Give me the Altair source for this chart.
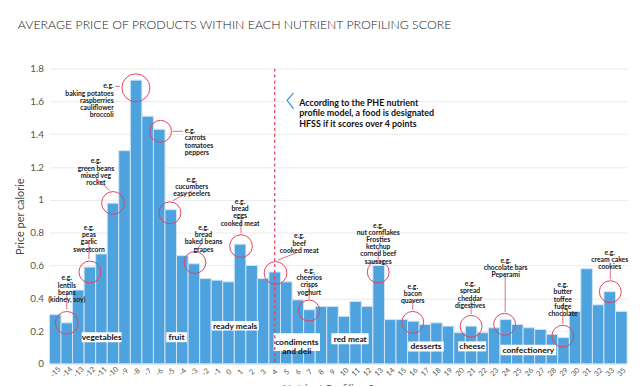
import math
import altair as alt
import pandas as pd

# ---------------- data ----------------
scores = [str(s) for s in range(-15, 34)] + ["35"]
prices = [0.30, 0.25, 0.45, 0.59, 0.67, 0.98, 1.30, 1.73, 1.51, 1.43,
          0.94, 0.66, 0.61, 0.52, 0.51, 0.50, 0.73, 0.60, 0.52, 0.56,
          0.50, 0.39, 0.33, 0.35, 0.35, 0.29, 0.38, 0.35, 0.60, 0.27,
          0.27, 0.26, 0.24, 0.25, 0.23, 0.19, 0.23, 0.19, 0.22, 0.27,
          0.24, 0.22, 0.21, 0.18, 0.16, 0.32, 0.58, 0.36, 0.44, 0.32]

title_text = "AVERAGE PRICE OF PRODUCTS WITHIN EACH NUTRIENT PROFILING SCORE"
y_title = "Price per calorie"
x_title = "Nutrient Profiling Score"
threshold_score = "4"

# example annotations (positions in bar-index units / price units)
ann_text = [
    "e.g.\nlentils\nbeans\n(kidney, soy)",
    "e.g.\npeas\ngarlic\nsweetcorn",
    "e.g.\ngreen beans\nmixed veg\nrocket",
    "e.g.\nbaking potatoes\nraspberries\ncauliflower\nbroccoli",
    "e.g.\ncarrots\ntomatoes\npeppers",
    "e.g.\ncucumbers\neasy peelers",
    "e.g.\nbread\nbaked beans\ngrapes",
    "e.g.\nbread\neggs\ncooked meat",
    "e.g.\nbeef\ncooked meat",
    "e.g.\ncheerios\ncrisps\nyoghurt",
    "e.g.\nnut cornflakes\nFrosties\nketchup\ncorned beef\nsausages",
    "e.g.\nbacon\nquavers",
    "e.g.\nspread\ncheddar\ndigestives",
    "e.g.\nchocolate bars\nPeperami",
    "e.g.\nbutter\ntoffee\nfudge\nchocolate",
    "e.g.\ncream cakes\ncookies",
]
ann_text_u = [1.5, 3.42, 4.02, 5.56, 11.71, 12.31, 13.33, 16.5, 21.62, 22.48,
              28.46, 31.45, 36.41, 39.49, 44.44, 48.5]
ann_text_v = [0.521, 0.828, 1.234, 1.692, 1.418, 1.123, 0.828, 0.987, 0.777, 0.566,
              0.843, 0.47, 0.485, 0.629, 0.479, 0.677]
ann_align = ["center", "center", "center", "right", "left", "center", "center", "center",
             "center", "center", "center", "center", "center", "center", "center", "center"]

circle_u = [1.5, 3.5, 5.5, 7.48, 9.62, 10.43, 12.59, 16.58, 19.57, 22.48,
            28.46, 31.45, 36.5, 39.4, 44.44, 48.55]
circle_v = [0.25, 0.56, 0.981, 1.683, 1.418, 0.921, 0.618, 0.718, 0.554, 0.325,
            0.56, 0.253, 0.229, 0.241, 0.169, 0.44]
circle_r = [13, 12.5, 13, 16, 12.5, 12.5, 12.5, 13, 13, 12, 12.5, 12.5, 12.5, 12.5, 12.5, 12.5]

lead_u1 = [1.5, 3.42, 4.02, 5.68, 10.68, 10.68, 12.71, 16.58, 19.74, 22.48,
           28.46, 31.45, 36.5, 39.45, 44.44, 48.55]
lead_v1 = [0.44, 0.74, 1.132, 1.692, 1.418, 0.996, 0.692, 0.909, 0.632, 0.476,
           0.71, 0.385, 0.385, 0.548, 0.367, 0.596]
lead_u2 = [1.5, 3.42, 5.21, 6.11, 11.54, 12.31, 13.16, 16.58, 21.37, 22.48,
           28.46, 31.45, 36.5, 39.45, 44.44, 48.55]
lead_v2 = [0.331, 0.638, 1.057, 1.692, 1.418, 1.054, 0.735, 0.798, 0.677, 0.397,
           0.635, 0.328, 0.304, 0.316, 0.244, 0.515]

# category labels
cat_text = ["vegetables", "fruit", "ready meals", "condiments\nand deli", "red meat",
            "desserts", "cheese", "confectionery"]
cat_u = [4.52, 11.0, 16.07, 21.41, 26.03, 32.6, 36.6, 41.45]
cat_v = [0.163, 0.163, 0.232, 0.132, 0.154, 0.107, 0.107, 0.084]
box_u1 = [2.79, 10.11, 14.02, 19.4, 24.4, 31.05, 35.38, 39.03]
box_u2 = [6.24, 11.9, 18.12, 23.42, 27.63, 34.13, 37.8, 43.87]
box_v1 = [0.132, 0.132, 0.203, 0.078, 0.120, 0.076, 0.076, 0.052]
box_v2 = [0.193, 0.193, 0.261, 0.187, 0.187, 0.137, 0.137, 0.116]

note_text = "According to the PHE nutrient\nprofile model, a food is designated\nHFSS if it scores over 4 points"
note_u = [21.62]
note_v = [1.591]
chev_u = [21.13, 20.57, 21.13]
chev_v = [1.652, 1.607, 1.555]

# ---------------- frames ----------------
bars = pd.DataFrame({"score": scores, "price": prices})
bars["x0"] = list(range(len(scores)))
bars["x1"] = bars["x0"] + 1

ann = pd.DataFrame({"text": ann_text, "tu": ann_text_u, "tv": ann_text_v, "align": ann_align})
circ = pd.DataFrame({"u": circle_u, "v": circle_v,
                     "size": [math.pi * r * r for r in circle_r]})
lead = pd.DataFrame({"u1": lead_u1, "v1": lead_v1, "u2": lead_u2, "v2": lead_v2})
cats = pd.DataFrame({"text": cat_text, "u": cat_u, "v": cat_v,
                     "bu1": box_u1, "bu2": box_u2, "bv1": box_v1, "bv2": box_v2})
note = pd.DataFrame({"text": [note_text], "u": note_u, "v": note_v})
chev = pd.DataFrame({"u": chev_u, "v": chev_v, "o": [0, 1, 2]})
thr = pd.DataFrame({"u": [scores.index(threshold_score) + 0.5]})
ttl = pd.DataFrame({"t": [title_text]})

N = len(scores)
label_expr = "[" + ",".join("'%s'" % s for s in scores) + "][floor(datum.value)]"

xs = alt.Scale(domain=[0, N], nice=False, zero=False)
ys = alt.Scale(domain=[0, 1.8], nice=False)

RED = "#e2425f"
BLUE = "#4ea2de"

base_x = alt.X("x0:Q", scale=xs,
               axis=alt.Axis(values=[i + 0.5 for i in range(N)], labelExpr=label_expr,
                             labelAngle=-45, labelAlign="center", labelBaseline="middle",
                             labelPadding=8, labelFontSize=7.5, labelColor="#555555",
                             labelOverlap=False,
                             domain=False, ticks=False, grid=False,
                             title=x_title, titleFontSize=11, titleFontWeight="normal",
                             titleColor="#666666", titlePadding=5))

bar_layer = alt.Chart(bars).mark_bar(color=BLUE, stroke="#cfe4f5", strokeWidth=1).encode(
    x=base_x,
    x2="x1:Q",
    y=alt.Y("price:Q", scale=ys,
            axis=alt.Axis(values=[0, 0.2, 0.4, 0.6, 0.8, 1.0, 1.2, 1.4, 1.6, 1.8], format="~g",
                          labelOverlap=False,
                          domain=False, ticks=False, labelPadding=6, labelFontSize=10,
                          labelColor="#555555", gridColor="#ebebeb",
                          title=y_title, titleFontSize=11, titleFontWeight="normal",
                          titleColor="#4a4a4a", titlePadding=4)),
    y2=alt.datum(0),
)

uq = lambda f: alt.X(f, type="quantitative", scale=xs, axis=None)
vq = lambda f: alt.Y(f, type="quantitative", scale=ys, axis=None)

box_layer = alt.Chart(cats).mark_rect(color="white").encode(
    x=uq("bu1"), x2="bu2:Q", y=vq("bv1"), y2="bv2:Q")
cat_layer = alt.Chart(cats).mark_text(fontSize=8.5, fontWeight="bold", color="#111111",
                                      lineBreak="\n", lineHeight=8.5, baseline="middle").encode(
    x=uq("u"), y=vq("v"), text="text:N")

thr_layer = alt.Chart(thr).mark_rule(color=RED, strokeDash=[3, 3], strokeWidth=1.3).encode(
    x=uq("u"))

circ_layer = alt.Chart(circ).mark_point(shape="circle", filled=False, color=RED,
                                        strokeWidth=1, opacity=1).encode(
    x=uq("u"), y=vq("v"), size=alt.Size("size:Q", scale=None))
lead_layer = alt.Chart(lead).mark_rule(color=RED, strokeWidth=1, opacity=0.8).encode(
    x=uq("u1"), x2="u2:Q", y=vq("v1"), y2="v2:Q")

def ann_layer(al):
    return alt.Chart(ann[ann["align"] == al]).mark_text(
        align=al, baseline="middle", fontSize=6.9, fontWeight="bold", color="#1a1a1a",
        lineBreak="\n", lineHeight=7.3).encode(x=uq("tu"), y=vq("tv"), text="text:N")

note_layer = alt.Chart(note).mark_text(align="left", baseline="middle", fontSize=9,
                                       fontWeight="bold", color="#111111",
                                       lineBreak="\n", lineHeight=10.5).encode(
    x=uq("u"), y=vq("v"), text="text:N")
chev_layer = alt.Chart(chev).mark_line(color="#3b93dc", strokeWidth=1.2).encode(
    x=uq("u"), y=vq("v"), order="o:Q")

title_layer = alt.Chart(ttl).mark_text(align="left", baseline="middle", fontSize=12.5,
                                       fontWeight=300, color="#222222").encode(
    x=alt.value(-32), y=alt.value(-44), text="t:N")

chart = alt.layer(
    bar_layer, box_layer, cat_layer, thr_layer, circ_layer, lead_layer,
    ann_layer("center"), ann_layer("left"), ann_layer("right"),
    note_layer, chev_layer, title_layer,
).resolve_axis(x="independent", y="independent").properties(
    width=585, height=299,
    autosize=alt.AutoSizeParams(type="none"),
    padding={"left": 42, "top": 59, "right": 5, "bottom": 20},
).configure(font="Lato").configure_view(stroke=None)

chart.save("out.html", embed_options={"renderer": "svg", "actions": False})
